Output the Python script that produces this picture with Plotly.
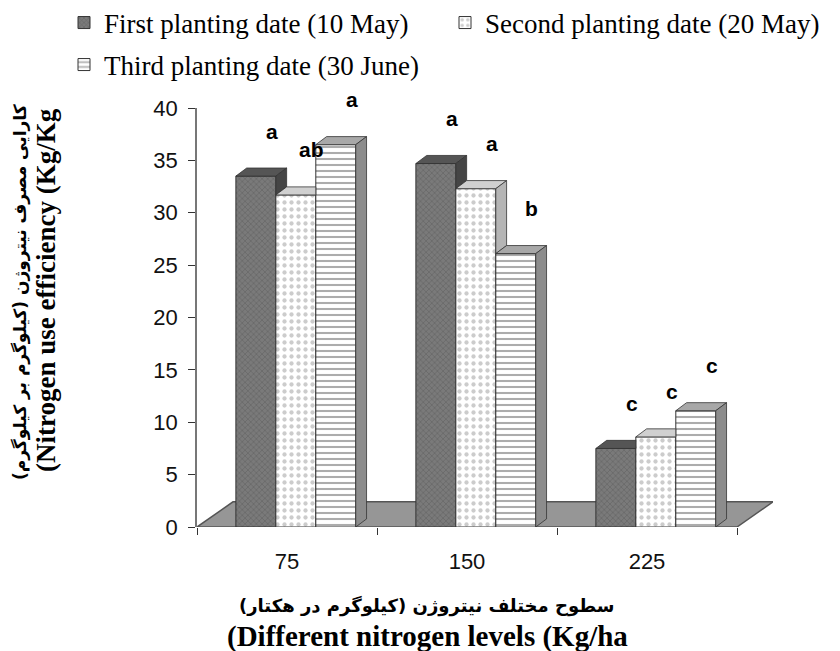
import plotly.graph_objects as go

# ---- data ----
categories = ["75", "150", "225"]
series_names = ["First planting date (10 May)",
                "Second planting date (20 May)",
                "Third planting date (30 June)"]
first_date = [33.5, 34.7, 7.5]
second_date = [31.7, 32.3, 8.6]
third_date = [36.5, 26.1, 11.1]
letters_first = ["a", "a", "c"]
letters_second = ["ab", "a", "c"]
letters_third = ["a", "b", "c"]
y_ticks = [0, 5, 10, 15, 20, 25, 30, 35, 40]

series_values = [first_date, second_date, third_date]
series_letters = [letters_first, letters_second, letters_third]

# ---- styling ----
W, H = 840, 651
PAGE = 8                      # default body margin of the html page
L, R, T, B = 189, 75, 100, 132
plot_w = W - L - R
plot_h = H - T - B

bar_w = 0.222
offsets = [-0.284, -0.062, 0.160]
dx, dy = 0.06, 0.77          # 3D depth of bars (cat units, value units)
fdx, fdy = 0.2, 2.4          # depth of the floor

patterns = [
    dict(shape="x", bgcolor="#7a7a7a", fgcolor="#555555", size=4, solidity=0.35),
    dict(shape=".", bgcolor="#ffffff", fgcolor="#9a9a9a", size=7, solidity=0.3),
    dict(shape="-", bgcolor="#ffffff", fgcolor="#5a5a5a", size=6, solidity=0.35),
]
top_colors = ["#555555", "#d0d0d0", "#a8a8a8"]
side_colors = ["#454545", "#b5b5b5", "#8c8c8c"]
legend_ids = ["legend", "legend2", "legend3"]
# legend placement (text start x, text centre y) in screen pixels
legend_pos = [(104, 23), (485, 23), (104, 65)]


def px_x(px):
    return (px - PAGE - L) / plot_w


def px_y(py):
    return (H - B - (py - PAGE)) / plot_h


fig = go.Figure()

for i, (name, vals) in enumerate(zip(series_names, series_values)):
    fig.add_trace(go.Bar(
        x=categories, y=vals, name=name,
        width=bar_w, offset=offsets[i],
        marker=dict(color=patterns[i]["bgcolor"], pattern=patterns[i],
                    line=dict(color="#333333", width=1)),
        legend=legend_ids[i],
    ))

shapes = []
# floor
shapes.append(dict(
    type="path", xref="x", yref="y", layer="below",
    path=f"M -0.5 0 L 2.5 0 L {2.5 + fdx} {fdy} L {-0.5 + fdx} {fdy} Z",
    fillcolor="#969696", line=dict(color="#555555", width=1.5)))

# 3D top and side faces computed from the data
for ci in range(len(categories)):
    for si in range(3):
        v = series_values[si][ci]
        nxt = series_values[si + 1][ci] if si < 2 else 0.0
        x0 = ci + offsets[si]
        x1 = x0 + bar_w
        if nxt > v:
            top = f"M {x0} {v} L {x1} {v} L {x1} {v + dy} L {x0 + dx} {v + dy} Z"
        else:
            top = f"M {x0} {v} L {x1} {v} L {x1 + dx} {v + dy} L {x0 + dx} {v + dy} Z"
        shapes.append(dict(type="path", xref="x", yref="y", layer="above", path=top,
                           fillcolor=top_colors[si], line=dict(color="#333333", width=0.8)))
        if v > nxt:
            side = (f"M {x1} {nxt} L {x1} {v} L {x1 + dx} {v + dy} "
                    f"L {x1 + dx} {nxt + dy} Z")
            shapes.append(dict(type="path", xref="x", yref="y", layer="above", path=side,
                               fillcolor=side_colors[si], line=dict(color="#333333", width=0.8)))

annotations = []
for si in range(3):
    for ci in range(len(categories)):
        annotations.append(dict(
            x=ci + offsets[si] + bar_w / 2 + dx, y=series_values[si][ci],
            xref="x", yref="y", text=series_letters[si][ci], showarrow=False,
            xanchor="center", yanchor="middle", yshift=45, xshift=5,
            font=dict(family="Liberation Sans, Arial", size=21, color="#000000", weight="bold")))

RLM = "\u200f"
fa_font_y = dict(family="DejaVu Sans", size=17, color="#000000", weight="bold")
fa_font_x = dict(family="DejaVu Sans", size=18, color="#000000", weight="bold")
en_font_y = dict(family="Liberation Serif, Times New Roman", size=27, color="#000000", weight="bold")
en_font_x = dict(family="Liberation Serif, Times New Roman", size=29, color="#000000", weight="bold")
title_common = dict(xref="paper", yref="paper", showarrow=False, xanchor="center", yanchor="middle")
annotations += [
    dict(x=px_x(20), y=px_y(292), textangle=-90,
         text=RLM + "کارایی مصرف نیتروژن (کیلوگرم بر کیلوگرم)" + RLM, font=fa_font_y, **title_common),
    dict(x=px_x(46), y=px_y(290), textangle=-90,
         text="(Nitrogen use efficiency (Kg/Kg", font=en_font_y, **title_common),
    dict(x=px_x(426), y=px_y(606),
         text=RLM + "سطوح مختلف نیتروژن (کیلوگرم در هکتار)" + RLM, font=fa_font_x, **title_common),
    dict(x=px_x(427), y=px_y(636),
         text="(Different nitrogen levels (Kg/ha", font=en_font_x, **title_common),
]

legend_font = dict(family="Liberation Serif, Times New Roman", size=27, color="#000000")
legends = {}
for lid, (lx, ly) in zip(legend_ids, legend_pos):
    legends[lid] = dict(orientation="h", xref="container", yref="container",
                        x=(lx - PAGE - 40) / W, y=1 - (ly - PAGE) / H,
                        xanchor="left", yanchor="middle",
                        font=legend_font, bgcolor="rgba(0,0,0,0)")

fig.update_layout(
    width=W, height=H,
    margin=dict(l=L, r=R, t=T, b=B, pad=0, autoexpand=False),
    paper_bgcolor="white", plot_bgcolor="white",
    barmode="overlay",
    showlegend=True,
    xaxis=dict(type="category", categoryorder="array", categoryarray=categories,
               range=[-0.5, 2.5 + fdx], tickson="boundaries",
               ticks="outside", ticklen=7, tickcolor="#333333",
               showline=False, showgrid=False, zeroline=False,
               tickfont=dict(family="Liberation Sans, Arial", size=22, color="#111111"),
               ticklabelstandoff=19, automargin=False),
    yaxis=dict(range=[0, 40], tickvals=y_ticks, ticks="outside", ticklen=7,
               tickcolor="#333333", showline=True, linecolor="#777777", linewidth=1.5,
               showgrid=False, zeroline=False,
               tickfont=dict(family="Liberation Sans, Arial", size=22, color="#111111"),
               ticklabelstandoff=6, automargin=False),
    shapes=shapes,
    annotations=annotations,
    **legends,
)

fig.write_html("out.html")
